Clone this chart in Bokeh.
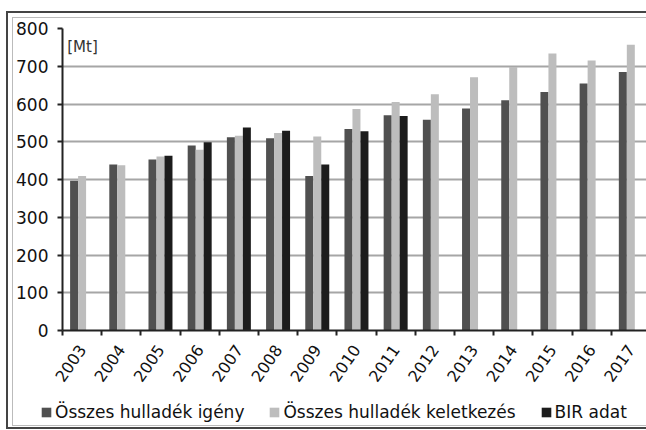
from bokeh.plotting import figure
from bokeh.layouts import column
from bokeh.models import (ColumnDataSource, FixedTicker, Legend, LegendItem, Label, Range1d)
from bokeh.transform import dodge
from bokeh.embed import file_html
from bokeh.resources import INLINE

years = ["2003", "2004", "2005", "2006", "2007", "2008", "2009", "2010",
         "2011", "2012", "2013", "2014", "2015", "2016", "2017"]
igeny = [397, 440, 453, 490, 512, 509, 409, 534, 570, 558, 588, 610, 632, 654, 685]
keletkezes = [409, 438, 461, 479, 516, 523, 514, 587, 605, 626, 671, 698, 734, 715, 757]
bir_years = ["2005", "2006", "2007", "2008", "2009", "2010", "2011"]
bir = [463, 499, 538, 529, 440, 528, 568]
y_ticks = [0, 100, 200, 300, 400, 500, 600, 700, 800]
series_names = ["Összes hulladék igény", "Összes hulladék keletkezés", "BIR adat"]
colors = ["#505050", "#bdbdbd", "#1c1c1c"]

xpos = [i + 0.5 for i in range(len(years))]
src = ColumnDataSource(dict(x=xpos, igeny=igeny, kel=keletkezes))
bsrc = ColumnDataSource(dict(x=[years.index(y) + 0.5 for y in bir_years], bir=bir))

FONT = "DejaVu Sans"
W = 0.204

frame_css = {
    "background-image": ("linear-gradient(#444,#444), linear-gradient(#444,#444), "
                         "linear-gradient(#444,#444), linear-gradient(#bbb,#bbb), "
                         "linear-gradient(#bbb,#bbb), linear-gradient(#bbb,#bbb)"),
    "background-size": "2px 417px, 100% 2px, 100% 2px, 1px 409px, 100% 1px, 100% 1px",
    "background-position": "6px 11px, 6px 11px, 6px 427px, 12px 17px, 12px 17px, 12px 425px",
    "background-repeat": "no-repeat",
    "background-color": "white",
}

p = figure(width=646, height=400, output_backend="svg", toolbar_location=None,
           x_range=Range1d(0, 14.9), y_range=Range1d(0, 800),
           min_border_left=62, min_border_top=28, min_border_bottom=70,
           min_border_right=0)
p.outline_line_color = None
p.background_fill_color = "white"
p.border_fill_color = None

r1 = p.vbar(x=dodge("x", -W, range=p.x_range), top="igeny", width=W, source=src,
            fill_color=colors[0], line_color=None)
r2 = p.vbar(x=dodge("x", 0, range=p.x_range), top="kel", width=W, source=src,
            fill_color=colors[1], line_color=None)
r3 = p.vbar(x=dodge("x", W, range=p.x_range), top="bir", width=W, source=bsrc,
            fill_color=colors[2], line_color=None)

# y axis
p.yaxis.ticker = FixedTicker(ticks=y_ticks)
p.yaxis.axis_line_width = 2
p.yaxis.axis_line_color = "#222222"
p.yaxis.major_tick_line_color = "#222222"
p.yaxis.major_tick_line_width = 2
p.yaxis.major_tick_out = 5
p.yaxis.major_tick_in = 0
p.yaxis.minor_tick_line_color = None
p.yaxis.major_label_text_font = FONT
p.yaxis.major_label_text_font_size = "17px"
p.yaxis.major_label_text_color = "#111111"
p.yaxis.major_label_standoff = 9

# x axis: labels at centers, tick marks at category boundaries
p.xaxis.ticker = FixedTicker(ticks=xpos, minor_ticks=list(range(len(years) + 1)))
p.xaxis.major_label_overrides = {x: y for x, y in zip(xpos, years)}
p.xaxis.major_tick_line_color = None
p.xaxis.minor_tick_line_color = "#222222"
p.xaxis.minor_tick_line_width = 2
p.xaxis.minor_tick_out = 5
p.xaxis.minor_tick_in = 0
p.xaxis.axis_line_width = 2
p.xaxis.axis_line_color = "#222222"
p.xaxis.major_label_orientation = 0.96
p.xaxis.major_label_text_font = FONT
p.xaxis.major_label_text_font_size = "16px"
p.xaxis.major_label_text_color = "#111111"
p.xaxis.major_label_standoff = 10

p.xgrid.grid_line_color = None
p.ygrid.ticker = FixedTicker(ticks=y_ticks)
p.ygrid.grid_line_color = "#a6a6a6"
p.ygrid.grid_line_width = 2

p.add_layout(Label(x=0.12, y=750, text="[Mt]", text_font=FONT, text_font_size="15px",
                   text_color="#333333", text_baseline="middle"))

# legend strip: a small figure under the chart; its renderers are hidden,
# only their legend entries are shown
lf = figure(width=646, height=30, output_backend="svg", toolbar_location=None,
            x_range=Range1d(0, 1), y_range=Range1d(0, 1),
            x_axis_location=None, y_axis_location=None,
            min_border=0, min_border_left=0, min_border_right=0,
            min_border_top=0, min_border_bottom=0)
lf.outline_line_color = None
lf.background_fill_color = None
lf.border_fill_color = None
lf.grid.grid_line_color = None
l1 = lf.vbar(x="x", top="igeny", width=W, source=src, fill_color=colors[0], line_color=None)
l2 = lf.vbar(x="x", top="kel", width=W, source=src, fill_color=colors[1], line_color=None)
l3 = lf.vbar(x="x", top="bir", width=W, source=bsrc, fill_color=colors[2], line_color=None)
for r in (l1, l2, l3):
    r.visible = False

legend = Legend(items=[LegendItem(label=series_names[0], renderers=[l1]),
                       LegendItem(label=series_names[1], renderers=[l2]),
                       LegendItem(label=series_names[2], renderers=[l3])],
                orientation="horizontal", location=(40, 8),
                glyph_width=12, glyph_height=12, label_standoff=3, spacing=24,
                padding=0, margin=0, border_line_color=None, background_fill_alpha=0,
                inactive_fill_alpha=0,
                label_text_font=FONT, label_text_font_size="17px",
                label_text_color="#111111")
lf.add_layout(legend, "center")

layout = column(p, column(lf, spacing=0), spacing=0, styles=frame_css)

open("out.html", "w").write(file_html(layout, INLINE))
